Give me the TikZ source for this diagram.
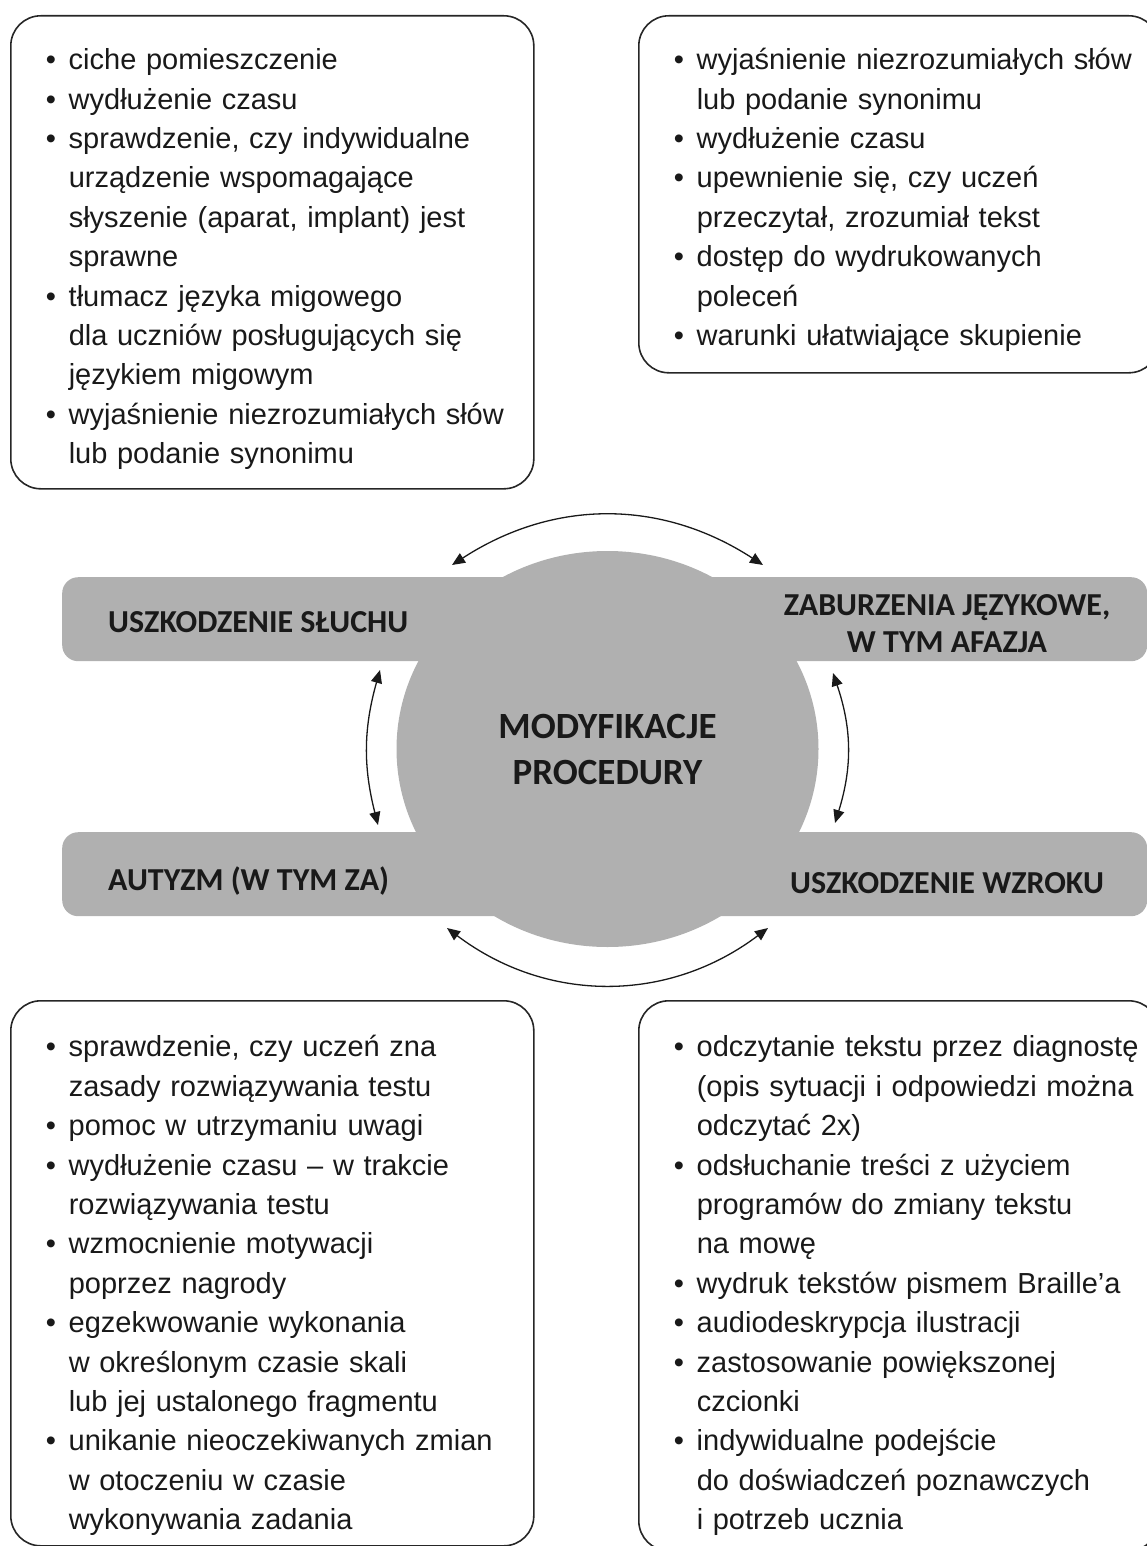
\documentclass[tikz,border=0pt]{standalone}
\usepackage{fontspec}
\setmainfont{Liberation Sans}
\newfontfamily\headfont{Carlito}
\usetikzlibrary{arrows.meta,shapes.geometric}

\begin{document}
\begin{tikzpicture}[x=1pt,y=1pt,
  listbox/.style={draw=black!85,line width=1.6pt,rounded corners=30pt,anchor=north west,
    inner xsep=30pt,inner ysep=0pt,align=left,text=black!90,
    font=\fontsize{29}{39.4}\selectfont},
  bar/.style={fill=black!31,rounded corners=16pt,anchor=north west,inner sep=0pt,minimum height=84pt},
  hub/.style={ellipse,fill=black!31,minimum width=422pt,minimum height=396pt,inner sep=0pt,
    align=center,text=black!90,font=\headfont\bfseries\fontsize{37}{46}\selectfont},
  tag/.style={inner sep=0pt,align=center,text=black!90,font=\headfont\bfseries\fontsize{32}{37}\selectfont},
  flowarrow/.style={{Triangle[length=13pt,width=11pt]}-{Triangle[length=13pt,width=11pt]},
    line width=1.3pt,black!90}
]
  \useasboundingbox (0,0) rectangle (1147,-1546);

  % grey bars behind the hub
  \node[bar,minimum width=560pt] (barHearing) at (62,-577) {};
  \node[bar,minimum width=547pt] (barLanguage) at (600,-577) {};
  \node[bar,minimum width=560pt] (barAutism) at (62,-832) {};
  \node[bar,minimum width=547pt] (barVision) at (600,-832) {};

  \node[hub] (hub) at (607.5,-749) {MODYFIKACJE\\PROCEDURY};

  \node[tag,anchor=base west] (lblHearing) at (108,-632) {USZKODZENIE SŁUCHU};
  \node[tag] (lblLanguage) at (947,-623.5) {ZABURZENIA JĘZYKOWE,\\W TYM AFAZJA};
  \node[tag,anchor=base west] (lblAutism) at (108,-890) {AUTYZM (W TYM ZA)};
  \node[tag,anchor=base] (lblVision) at (947,-893) {USZKODZENIE WZROKU};

  % lists
  \node[listbox,text width=463pt,text height=54pt,text depth=419pt] (boxHearing) at (10,-15) {%
    \begin{tabular}[t]{@{\hspace{5pt}}l@{\hspace{12.8pt}}l@{}}
    \textbullet & ciche pomieszczenie\\
    \textbullet & wydłużenie czasu\\
    \textbullet & sprawdzenie, czy indywidualne\\
                & urządzenie wspomagające\\
                & słyszenie (aparat, implant) jest\\
                & sprawne\\
    \textbullet & tłumacz języka migowego\\
                & dla uczniów posługujących się\\
                & językiem migowym\\
    \textbullet & wyjaśnienie niezrozumiałych słów\\
                & lub podanie synonimu
    \end{tabular}};
  \node[listbox,text width=460pt,text height=54pt,text depth=303pt] (boxLanguage) at (638,-15) {%
    \begin{tabular}[t]{@{\hspace{5pt}}l@{\hspace{12.8pt}}l@{}}
    \textbullet & wyjaśnienie niezrozumiałych słów\\
                & lub podanie synonimu\\
    \textbullet & wydłużenie czasu\\
    \textbullet & upewnienie się, czy uczeń\\
                & przeczytał, zrozumiał tekst\\
    \textbullet & dostęp do wydrukowanych\\
                & poleceń\\
    \textbullet & warunki ułatwiające skupienie
    \end{tabular}};
  \node[listbox,text width=463pt,text height=56pt,text depth=489pt] (boxAutism) at (10,-1000) {%
    \begin{tabular}[t]{@{\hspace{5pt}}l@{\hspace{12.8pt}}l@{}}
    \textbullet & sprawdzenie, czy uczeń zna\\
                & zasady rozwiązywania testu\\
    \textbullet & pomoc w utrzymaniu uwagi\\
    \textbullet & wydłużenie czasu – w trakcie\\
                & rozwiązywania testu\\
    \textbullet & wzmocnienie motywacji\\
                & poprzez nagrody\\
    \textbullet & egzekwowanie wykonania\\
                & w określonym czasie skali\\
                & lub jej ustalonego fragmentu\\
    \textbullet & unikanie nieoczekiwanych zmian\\
                & w otoczeniu w czasie\\
                & wykonywania zadania
    \end{tabular}};
  \node[listbox,text width=460pt,text height=56pt,text depth=494pt] (boxVision) at (638,-1000) {%
    \begin{tabular}[t]{@{\hspace{5pt}}l@{\hspace{12.8pt}}l@{}}
    \textbullet & odczytanie tekstu przez diagnostę\\
                & (opis sytuacji i odpowiedzi można\\
                & odczytać 2x)\\
    \textbullet & odsłuchanie treści z użyciem\\
                & programów do zmiany tekstu\\
                & na mowę\\
    \textbullet & wydruk tekstów pismem Braille'a\\
    \textbullet & audiodeskrypcja ilustracji\\
    \textbullet & zastosowanie powiększonej\\
                & czcionki\\
    \textbullet & indywidualne podejście\\
                & do doświadczeń poznawczych\\
                & i potrzeb ucznia
    \end{tabular}};

  % arrows round the hub
  \coordinate (arcTL) at (452,-565);
  \coordinate (arcTR) at (763,-565);
  \coordinate (arcLT) at (380,-670);
  \coordinate (arcLB) at (378,-825);
  \coordinate (arcRT) at (833,-673);
  \coordinate (arcRB) at (835,-823);
  \coordinate (arcBL) at (447,-928);
  \coordinate (arcBR) at (768,-928);
  \draw[flowarrow] (arcTL) to[bend left=33] (arcTR);
  \draw[flowarrow] (arcLT) to[bend right=15] (arcLB);
  \draw[flowarrow] (arcRT) to[bend left=18] (arcRB);
  \draw[flowarrow] (arcBL) to[bend right=37] (arcBR);
\end{tikzpicture}
\end{document}
